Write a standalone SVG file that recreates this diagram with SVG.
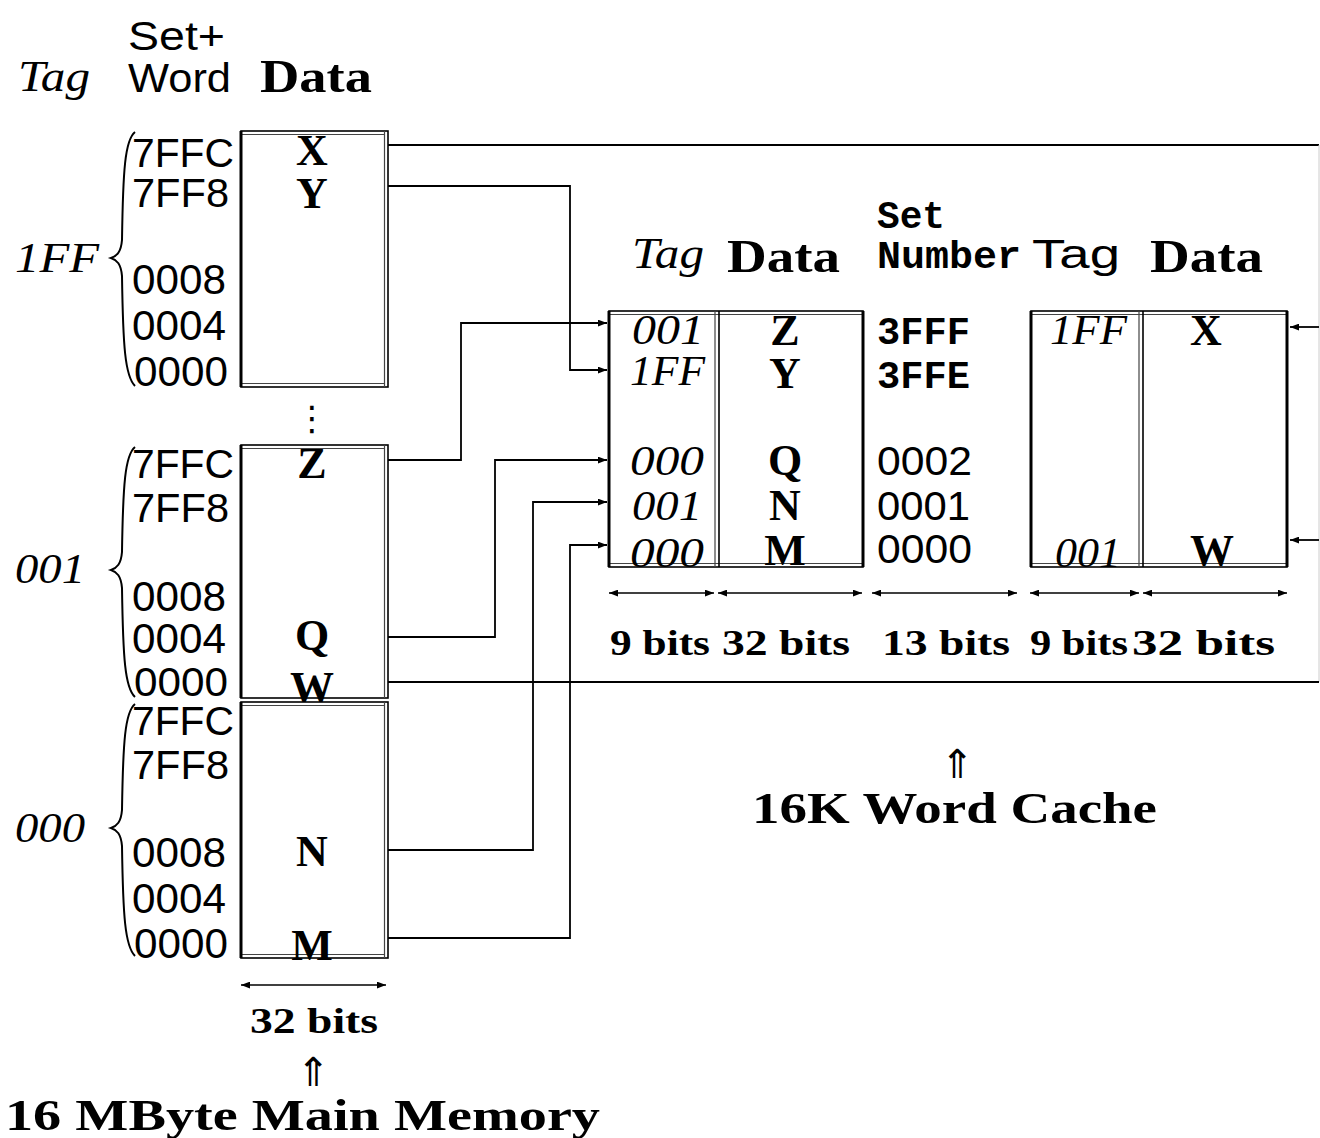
<svg xmlns="http://www.w3.org/2000/svg" width="1320" height="1138" viewBox="0 0 1320 1138">
<style>
.sb{font-family:"Liberation Serif",serif;font-weight:bold;fill:#000}
.si{font-family:"Liberation Serif",serif;font-style:italic;fill:#000}
.ss{font-family:"Liberation Sans",sans-serif;fill:#000}
.mb{font-family:"Liberation Mono",monospace;font-weight:bold;fill:#000}
.box{fill:#fff;stroke:#000;stroke-width:1.6}
.in{fill:none;stroke:#444;stroke-width:1.2}
.lft{stroke:#000;stroke-width:3}
.con{fill:none;stroke:#000;stroke-width:1.8}
.dim{fill:none;stroke:#000;stroke-width:1.5}
.br{fill:none;stroke:#000;stroke-width:2}
.up{font-family:"DejaVu Sans",sans-serif;fill:#000}
</style>
<defs>
<marker id="ah" viewBox="0 0 8 6" markerWidth="9" markerHeight="7" refX="8" refY="3" orient="auto" markerUnits="userSpaceOnUse"><path d="M0,0 L8,3 L0,6 z" fill="#000"/></marker>
<marker id="dh" viewBox="0 0 8 6" markerWidth="9" markerHeight="7" refX="8" refY="3" orient="auto-start-reverse" markerUnits="userSpaceOnUse"><path d="M0,0 L8,3 L0,6 z" fill="#000"/></marker>
</defs>
<rect width="1320" height="1138" fill="#fff"/>

<g id="mem-header">
<text class="ss" x="128" y="50" font-size="40" textLength="97" lengthAdjust="spacingAndGlyphs">Set+</text>
<text class="si" x="18" y="91" font-size="44" textLength="72" lengthAdjust="spacingAndGlyphs">Tag</text>
<text class="ss" x="128" y="92" font-size="40" textLength="103" lengthAdjust="spacingAndGlyphs">Word</text>
<text class="sb" x="260" y="92" font-size="46" textLength="112" lengthAdjust="spacingAndGlyphs">Data</text>
</g>

<g id="connectors">
<path class="con" d="M388,145 H1319"/>
<line x1="1319" y1="145" x2="1319" y2="682" stroke="#ccc" stroke-width="1"/>
<path class="con" d="M1319,327 H1290" marker-end="url(#ah)"/>
<path class="con" d="M1319,540 H1290" marker-end="url(#ah)"/>
<path class="con" d="M388,186 H570 V370 H607" marker-end="url(#ah)"/>
<path class="con" d="M388,460 H461 V323 H607" marker-end="url(#ah)"/>
<path class="con" d="M388,637 H495 V460 H607" marker-end="url(#ah)"/>
<path class="con" d="M388,850 H533 V502 H607" marker-end="url(#ah)"/>
<path class="con" d="M388,938 H570 V545 H607" marker-end="url(#ah)"/>
<path class="con" d="M388,682 H1319"/>
</g>

<g id="mem-1ff">
<rect class="box" x="241" y="131" width="147" height="256"/>
<path class="in" d="M241,134.5 H384.5 M384.5,131 V387 M241,383.5 H384.5"/>
<line class="lft" x1="241" y1="131" x2="241" y2="387"/>
<path class="br" d="M135,132 C125,140 123,170 122,240 C121,252 117,256 111,258 C117,260 121,264 122,276 C123,346 125,376 135,386"/>
<text class="si" x="15" y="272" font-size="42" textLength="84" lengthAdjust="spacingAndGlyphs">1FF</text>
<text class="ss" x="132" y="167" font-size="40" textLength="102" lengthAdjust="spacingAndGlyphs">7FFC</text>
<text class="ss" x="132" y="207" font-size="40" textLength="97" lengthAdjust="spacingAndGlyphs">7FF8</text>
<text class="ss" x="132" y="294" font-size="42" textLength="94" lengthAdjust="spacingAndGlyphs">0008</text>
<text class="ss" x="132" y="340" font-size="42" textLength="94" lengthAdjust="spacingAndGlyphs">0004</text>
<text class="ss" x="134" y="386" font-size="42" textLength="94" lengthAdjust="spacingAndGlyphs">0000</text>
<text class="sb" x="312" y="165" font-size="44" text-anchor="middle">X</text>
<text class="sb" x="312" y="208" font-size="44" text-anchor="middle">Y</text>
</g>

<text class="up" x="312" y="430" font-size="34" text-anchor="middle">⋮</text>

<g id="mem-001">
<rect class="box" x="241" y="445" width="147" height="253"/>
<path class="in" d="M241,448.5 H384.5 M384.5,445 V698"/>
<line class="lft" x1="241" y1="445" x2="241" y2="698"/>
<path class="br" d="M135,447 C125,455 123,485 122,552 C121,564 117,568 111,570 C117,572 121,576 122,588 C123,658 125,688 135,697"/>
<text class="si" x="15" y="583" font-size="42" textLength="70" lengthAdjust="spacingAndGlyphs">001</text>
<text class="ss" x="132" y="478" font-size="40" textLength="102" lengthAdjust="spacingAndGlyphs">7FFC</text>
<text class="ss" x="132" y="522" font-size="40" textLength="97" lengthAdjust="spacingAndGlyphs">7FF8</text>
<text class="ss" x="132" y="611" font-size="42" textLength="94" lengthAdjust="spacingAndGlyphs">0008</text>
<text class="ss" x="132" y="653" font-size="42" textLength="94" lengthAdjust="spacingAndGlyphs">0004</text>
<text class="ss" x="134" y="696" font-size="40" textLength="94" lengthAdjust="spacingAndGlyphs">0000</text>
<text class="sb" x="312" y="478" font-size="44" text-anchor="middle">Z</text>
<text class="sb" x="312" y="650" font-size="44" text-anchor="middle">Q</text>
<text class="sb" x="312" y="702" font-size="44" text-anchor="middle">W</text>
</g>

<g id="mem-000">
<rect class="box" x="241" y="702" width="147" height="256"/>
<path class="in" d="M241,705.5 H384.5 M384.5,702 V958 M241,954.5 H384.5"/>
<line class="lft" x1="241" y1="702" x2="241" y2="958"/>
<path class="br" d="M135,704 C125,712 123,742 122,810 C121,822 117,826 111,828 C117,830 121,834 122,846 C123,916 125,946 135,956"/>
<text class="si" x="15" y="842" font-size="42" textLength="70" lengthAdjust="spacingAndGlyphs">000</text>
<text class="ss" x="132" y="735" font-size="40" textLength="102" lengthAdjust="spacingAndGlyphs">7FFC</text>
<text class="ss" x="132" y="779" font-size="40" textLength="97" lengthAdjust="spacingAndGlyphs">7FF8</text>
<text class="ss" x="132" y="867" font-size="42" textLength="94" lengthAdjust="spacingAndGlyphs">0008</text>
<text class="ss" x="132" y="913" font-size="42" textLength="94" lengthAdjust="spacingAndGlyphs">0004</text>
<text class="ss" x="134" y="958" font-size="42" textLength="94" lengthAdjust="spacingAndGlyphs">0000</text>
<text class="sb" x="312" y="866" font-size="44" text-anchor="middle">N</text>
<text class="sb" x="312" y="960" font-size="44" text-anchor="middle">M</text>
</g>

<g id="mem-label">
<path class="dim" d="M241,985 H386" marker-start="url(#dh)" marker-end="url(#dh)"/>
<text class="sb" x="250" y="1033" font-size="36" textLength="128" lengthAdjust="spacingAndGlyphs">32 bits</text>
<text class="up" x="313" y="1086" font-size="40" text-anchor="middle">⇑</text>
<text class="sb" x="5" y="1130" font-size="44" textLength="595" lengthAdjust="spacingAndGlyphs">16 MByte Main Memory</text>
</g>

<g id="cache-header">
<text class="si" x="632" y="268" font-size="44" textLength="72" lengthAdjust="spacingAndGlyphs">Tag</text>
<text class="sb" x="727" y="272" font-size="46" textLength="113" lengthAdjust="spacingAndGlyphs">Data</text>
<text class="mb" x="877" y="228" font-size="38" textLength="68" lengthAdjust="spacingAndGlyphs">Set</text>
<text class="mb" x="877" y="268" font-size="38" textLength="144" lengthAdjust="spacingAndGlyphs">Number</text>
<text class="ss" x="1032" y="268" font-size="40" textLength="88" lengthAdjust="spacingAndGlyphs">Tag</text>
<text class="sb" x="1150" y="272" font-size="46" textLength="113" lengthAdjust="spacingAndGlyphs">Data</text>
</g>

<g id="cache-left">
<rect class="box" x="609" y="311" width="254" height="256"/>
<path class="in" d="M609,314.5 H863 M609,563.5 H863 M715,311 V567"/>
<line class="box" x1="719" y1="311" x2="719" y2="567"/>
<line class="lft" x1="609" y1="311" x2="609" y2="567"/>
<line class="lft" x1="863" y1="311" x2="863" y2="567"/>
<text class="si" x="632" y="344" font-size="42" textLength="72" lengthAdjust="spacingAndGlyphs">001</text>
<text class="si" x="630" y="385" font-size="42" textLength="75" lengthAdjust="spacingAndGlyphs">1FF</text>
<text class="si" x="630" y="475" font-size="42" textLength="74" lengthAdjust="spacingAndGlyphs">000</text>
<text class="si" x="632" y="520" font-size="42" textLength="70" lengthAdjust="spacingAndGlyphs">001</text>
<text class="si" x="630" y="567" font-size="42" textLength="74" lengthAdjust="spacingAndGlyphs">000</text>
<text class="sb" x="785" y="345" font-size="44" text-anchor="middle">Z</text>
<text class="sb" x="785" y="388" font-size="44" text-anchor="middle">Y</text>
<text class="sb" x="785" y="475" font-size="44" text-anchor="middle">Q</text>
<text class="sb" x="785" y="520" font-size="44" text-anchor="middle">N</text>
<text class="sb" x="785" y="565" font-size="44" text-anchor="middle">M</text>
</g>

<g id="set-numbers">
<text class="mb" x="877" y="344" font-size="38" textLength="93" lengthAdjust="spacingAndGlyphs">3FFF</text>
<text class="mb" x="877" y="388" font-size="38" textLength="93" lengthAdjust="spacingAndGlyphs">3FFE</text>
<text class="ss" x="877" y="475" font-size="40" textLength="95" lengthAdjust="spacingAndGlyphs">0002</text>
<text class="ss" x="877" y="520" font-size="40" textLength="93" lengthAdjust="spacingAndGlyphs">0001</text>
<text class="ss" x="877" y="563" font-size="40" textLength="95" lengthAdjust="spacingAndGlyphs">0000</text>
</g>

<g id="cache-right">
<rect class="box" x="1031" y="311" width="256" height="256"/>
<path class="in" d="M1031,314.5 H1287 M1031,563.5 H1287 M1139,311 V567"/>
<line class="box" x1="1143" y1="311" x2="1143" y2="567"/>
<line class="lft" x1="1031" y1="311" x2="1031" y2="567"/>
<line class="lft" x1="1287" y1="311" x2="1287" y2="567"/>
<text class="si" x="1050" y="344" font-size="42" textLength="77" lengthAdjust="spacingAndGlyphs">1FF</text>
<text class="si" x="1055" y="567" font-size="42" textLength="66" lengthAdjust="spacingAndGlyphs">001</text>
<text class="sb" x="1206" y="345" font-size="44" text-anchor="middle">X</text>
<text class="sb" x="1212" y="565" font-size="44" text-anchor="middle">W</text>
</g>

<g id="cache-widths">
<path class="dim" d="M609,593 H714" marker-start="url(#dh)" marker-end="url(#dh)"/>
<path class="dim" d="M718,593 H862" marker-start="url(#dh)" marker-end="url(#dh)"/>
<path class="dim" d="M872,593 H1017" marker-start="url(#dh)" marker-end="url(#dh)"/>
<path class="dim" d="M1030,593 H1139" marker-start="url(#dh)" marker-end="url(#dh)"/>
<path class="dim" d="M1143,593 H1287" marker-start="url(#dh)" marker-end="url(#dh)"/>
<text class="sb" x="610" y="655" font-size="36" textLength="100" lengthAdjust="spacingAndGlyphs">9 bits</text>
<text class="sb" x="722" y="655" font-size="36" textLength="128" lengthAdjust="spacingAndGlyphs">32 bits</text>
<text class="sb" x="882" y="655" font-size="36" textLength="128" lengthAdjust="spacingAndGlyphs">13 bits</text>
<text class="sb" x="1030" y="655" font-size="36" textLength="98" lengthAdjust="spacingAndGlyphs">9 bits</text>
<text class="sb" x="1132" y="655" font-size="36" textLength="143" lengthAdjust="spacingAndGlyphs">32 bits</text>
</g>

<g id="cache-label">
<text class="up" x="957" y="778" font-size="40" text-anchor="middle">⇑</text>
<text class="sb" x="752" y="823" font-size="44" textLength="405" lengthAdjust="spacingAndGlyphs">16K Word Cache</text>
</g>
</svg>
